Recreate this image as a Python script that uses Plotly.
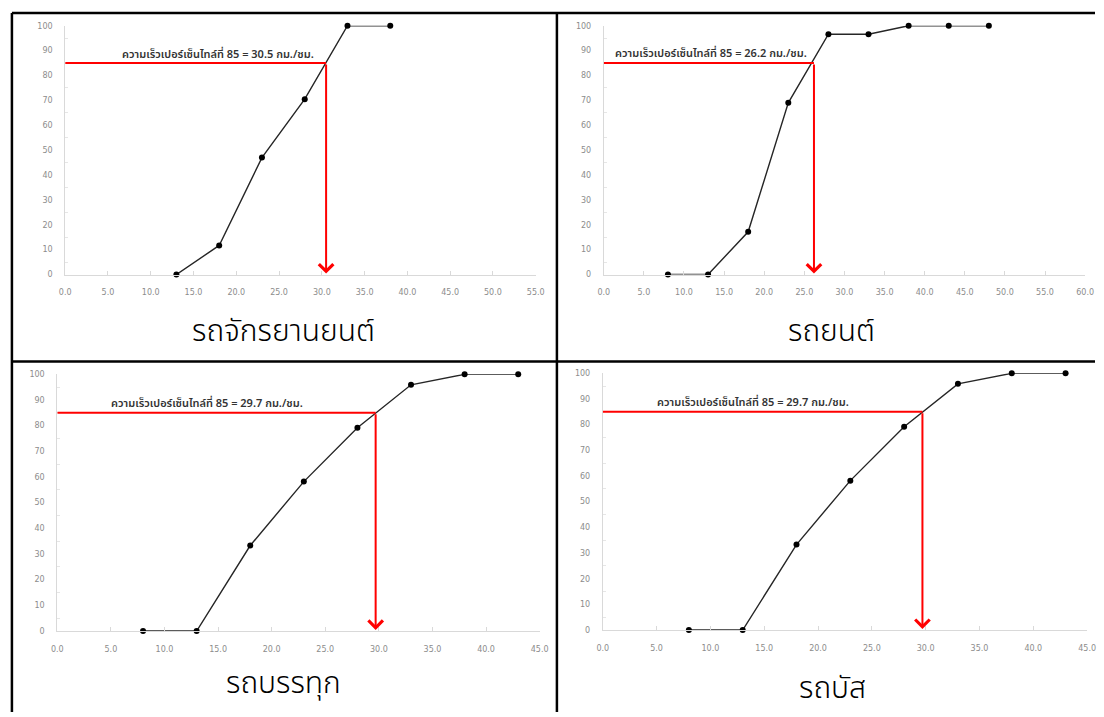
import plotly.graph_objects as go

W, H = 1104, 717

# Cumulative speed distribution per vehicle class
moto_speed = [13, 18, 23, 28, 33, 38]
moto_cum = [0, 11.7, 47.0, 70.5, 100, 100]

car_speed = [8, 13, 18, 23, 28, 33, 38, 43, 48]
car_cum = [0, 0, 17.2, 69.0, 96.6, 96.6, 100, 100, 100]

truck_speed = [8, 13, 18, 23, 28, 33, 38, 43]
truck_cum = [0, 0, 33.3, 58.2, 79.2, 95.9, 100, 100]

bus_speed = [8, 13, 18, 23, 28, 33, 38, 43]
bus_cum = [0, 0, 33.3, 58.2, 79.2, 95.9, 100, 100]

captions = ["รถจักรยานยนต์", "รถยนต์", "รถบรรทุก", "รถบัส"]
v85 = [30.5, 26.2, 29.7, 29.7]
pct = 85
x_max = [55, 60, 45, 45]

series = [(moto_speed, moto_cum), (car_speed, car_cum),
          (truck_speed, truck_cum), (bus_speed, bus_cum)]

# plot-area boxes in pixels: (x0, x1, y_top, y_bottom)
boxes = [(60, 537, 22, 274), (606, 1094, 22, 274),
         (52, 541, 375, 635), (605, 1096, 374, 634)]
# caption centres in pixels
cap_pos = [(281, 332), (837, 332), (281, 689), (838, 694)]
# label centre (data x, data y) for the percentile note
note_pos = [(17.9, 88.4), (13.4, 89.0), (14.0, 88.5), (14.0, 88.5)]

thai_font = "Noto Sans Thai, Noto Sans Thai UI, Noto Sans, sans-serif"

fig = go.Figure()
shapes = []
annotations = []

for i, ((xs, ys), box) in enumerate(zip(series, boxes)):
    n = "" if i == 0 else str(i + 1)
    xa, ya = "x" + n, "y" + n
    x0, x1, yt, yb = box
    fig.add_trace(go.Scatter(
        x=xs, y=ys, mode="lines+markers", xaxis=xa, yaxis=ya,
        line=dict(color="#262626", width=1.4),
        marker=dict(color="#000000", size=6),
        cliponaxis=False, showlegend=False, hoverinfo="x+y",
    ))
    axis_common = dict(
        showgrid=False, zeroline=False, showline=True, linecolor="#d9d9d9",
        linewidth=1, tickfont=dict(family="DejaVu Sans", size=8, color="#8c8c8c"),
        ticks="inside", tickcolor="#d9d9d9", ticklen=4,
    )
    fig.layout["xaxis" + n] = dict(
        axis_common, domain=[x0 / W, x1 / W], anchor=ya,
        range=[0, x_max[i]], dtick=5, tick0=0, tickformat=".1f",
        ticklabelstandoff=10, fixedrange=True,
    )
    fig.layout["yaxis" + n] = dict(
        axis_common, domain=[1 - yb / H, 1 - yt / H], anchor=xa,
        range=[0, 100], dtick=10, tick0=0, ticklabelstandoff=10,
        ticks="", fixedrange=True,
        minor=dict(dtick=5, ticks="inside", ticklen=3, tickcolor="#e6e6e6"),
    )
    # horizontal red guide at the 85th percentile
    shapes.append(dict(type="line", xref=xa, yref=ya, x0=0, x1=v85[i],
                       y0=pct, y1=pct, line=dict(color="#ff0000", width=2)))
    # vertical red arrow down to the speed axis
    annotations.append(dict(
        xref=xa, yref=ya, axref=xa, ayref=ya, x=v85[i], y=0.4,
        ax=v85[i], ay=pct, showarrow=True, arrowhead=4, arrowsize=1.4,
        arrowwidth=2, arrowcolor="#ff0000", text="",
    ))
    annotations.append(dict(
        xref=xa, yref=ya, x=note_pos[i][0], y=note_pos[i][1],
        text=f"ความเร็วเปอร์เซ็นไทล์ที่ {pct} = {v85[i]} กม./ชม.",
        showarrow=False, yanchor="middle",
        font=dict(family=thai_font, size=11, color="#333333", weight=600),
    ))
    cx, cy = cap_pos[i]
    annotations.append(dict(
        xref="paper", yref="paper", x=cx / W, y=1 - cy / H,
        text=captions[i], showarrow=False, xanchor="center", yanchor="middle",
        font=dict(family=thai_font, size=30, color="#000000", weight=300),
    ))

# table rules around the four panels
rule = dict(color="#000000", width=2.5)
for (a, b, c, d) in [(6, 9, 1104, 9), (6, 9, 6, 717), (558.5, 9, 558.5, 717),
                     (6, 362, 1104, 362)]:
    shapes.append(dict(type="line", xref="paper", yref="paper",
                       x0=a / W, x1=c / W, y0=1 - b / H, y1=1 - d / H, line=rule))

fig.update_layout(
    width=W, height=H, margin=dict(l=0, r=0, t=0, b=0),
    paper_bgcolor="white", plot_bgcolor="white",
    shapes=shapes, annotations=annotations,
)

fig.write_html("out.html", config={"displayModeBar": False})
